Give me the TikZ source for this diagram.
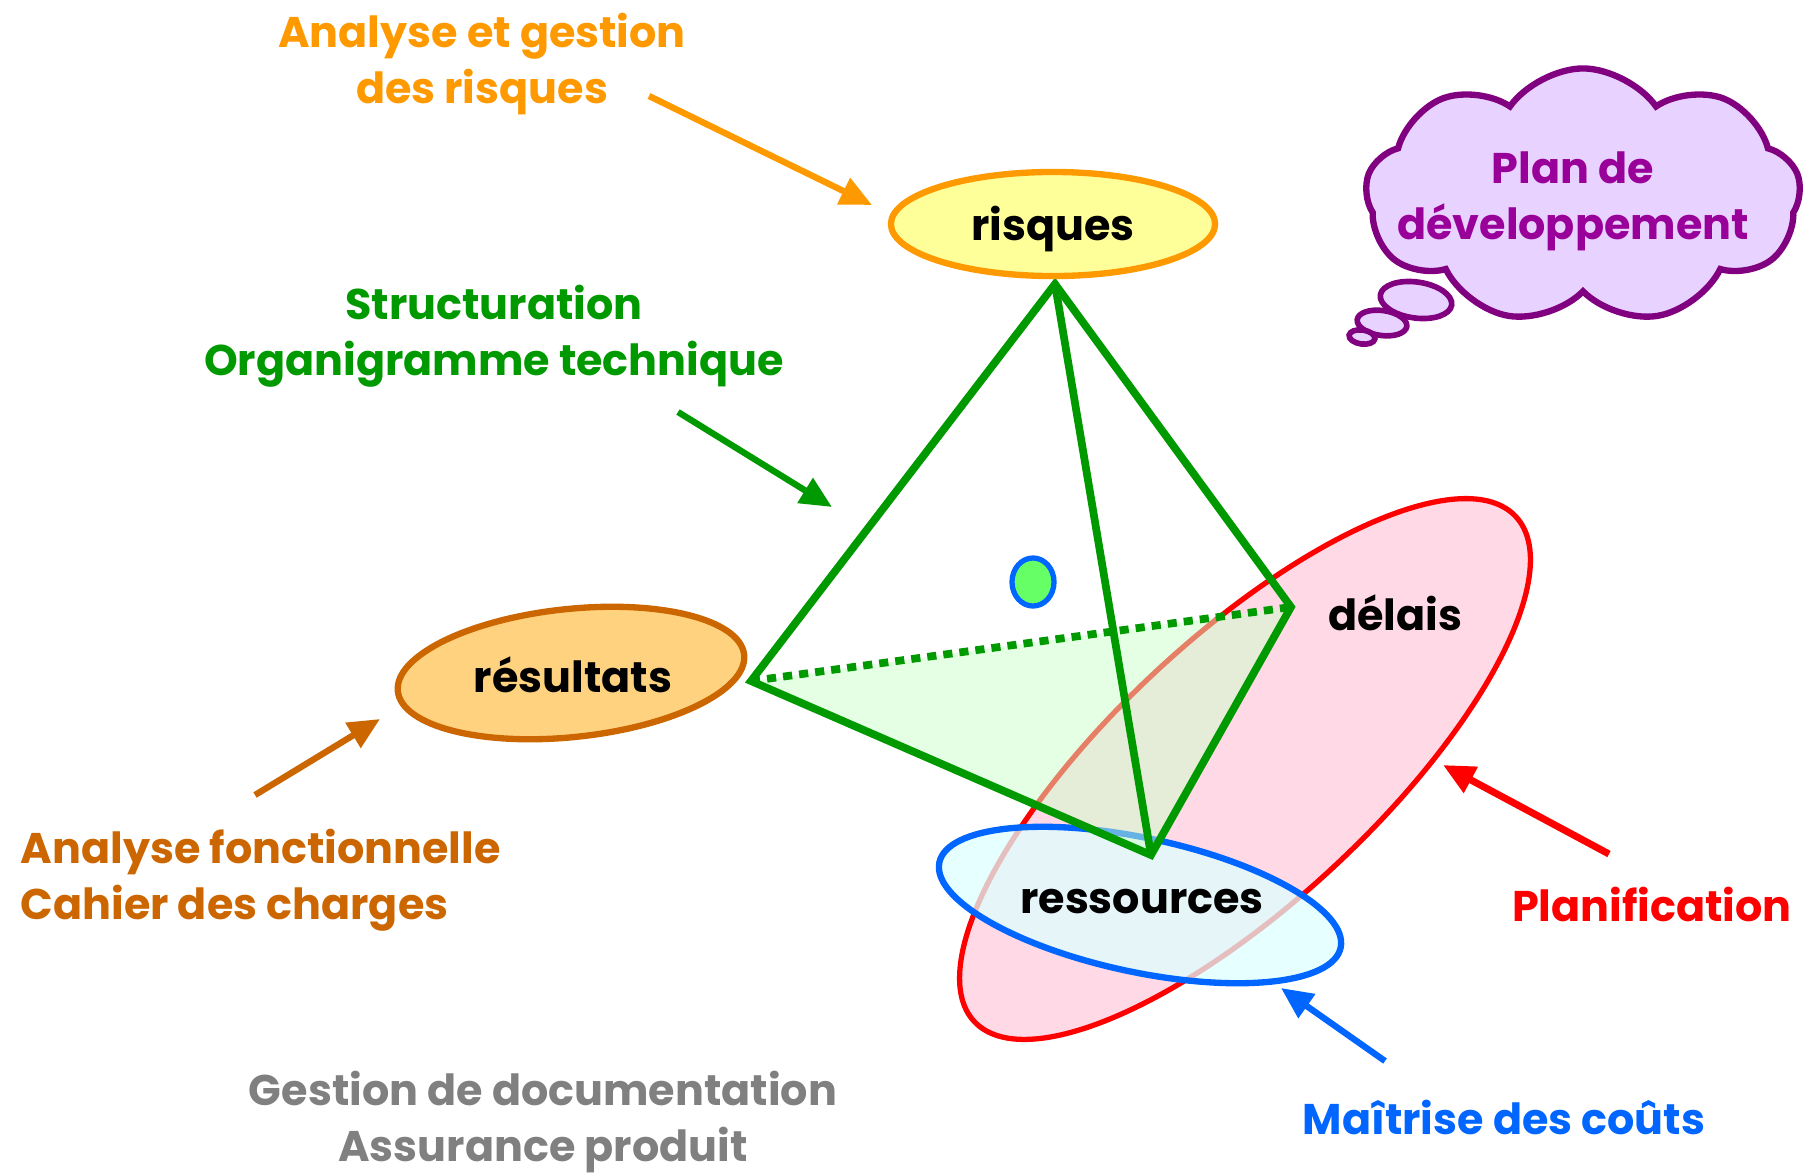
\documentclass[tikz,border=0pt]{standalone}
\usepackage{fontspec}
\setmainfont{Poppins}
\usetikzlibrary{shapes.geometric,shapes.symbols,arrows.meta}
\definecolor{cOrange}{HTML}{FF9900}
\definecolor{cYellow}{HTML}{FFFF99}
\definecolor{cGreen}{HTML}{009900}
\definecolor{cBrown}{HTML}{CC6600}
\definecolor{cResFill}{HTML}{FFD280}
\definecolor{cRed}{HTML}{FF0000}
\definecolor{cPink}{HTML}{FFD9E6}
\definecolor{cBlue}{HTML}{0066FF}
\definecolor{cCyan}{HTML}{DDFFFF}
\definecolor{cGray}{HTML}{808080}
\definecolor{cPurple}{HTML}{990099}
\definecolor{cPurpleLine}{HTML}{800080}
\definecolor{cLilac}{HTML}{E8D2FF}
\definecolor{cFace}{HTML}{CCFFCC}
\definecolor{cDot}{HTML}{66FF66}
\begin{document}
\begin{tikzpicture}[x=0.01cm,y=-0.01cm,
  every node/.style={font=\bfseries\fontsize{12.2}{15.9}\selectfont, inner sep=0pt},
  txt/.style={align=center},
  arr/.style={line width=1.8pt, -{Triangle[length=9pt,width=8pt]}},
  edge3d/.style={cGreen, line width=2.2pt, line join=miter},
  blob/.style={ellipse, line width=1.8pt, inner sep=0pt}]
\useasboundingbox (0,0) rectangle (1818,1172);

% --- planification ellipse (red) ---
\node[blob, draw=cRed, fill=cPink, line width=1.5pt, rotate=43,
      minimum width=7.4cm, minimum height=2.64cm] (planif) at (1245,769) {};
% --- ressources ellipse (blue) ---
\node[blob, draw=cBlue, fill=cCyan, fill opacity=0.75, draw opacity=1, rotate=-12,
      minimum width=4.1cm, minimum height=1.34cm] (ress) at (1140,905) {};

% --- pyramid ---
\coordinate (apex) at (1055,284);
\coordinate (vL) at (751,681);
\coordinate (vR) at (1291,607);
\coordinate (vB) at (1151,855);
\fill[cFace, opacity=0.5] (vL) -- (vR) -- (vB) -- cycle;
\draw[edge3d, dash pattern=on 2.6pt off 2pt] (vL) -- (vR);
\draw[edge3d] (vL) -- (apex) -- (vR) -- (vB) -- cycle;
\draw[edge3d] (apex) -- (vB);

% small dot
\node[ellipse, draw=cBlue, fill=cDot, line width=1.5pt,
      minimum width=0.42cm, minimum height=0.48cm] (dot) at (1033,582) {};

% --- risques ---
\node[blob, draw=cOrange, fill=cYellow, minimum width=3.24cm, minimum height=1.04cm] (risq) at (1053,224) {};
\node (risqT) at (1053,229) {risques};

% --- resultats ---
\node[blob, draw=cBrown, fill=cResFill, rotate=6, minimum width=3.48cm, minimum height=1.28cm] (resu) at (571,673) {};
\node (resuT) at (573,675) {résultats};

% labels inside
\node (delT) at (1395,613) {délais};
\node (ressT) at (1142,902) {ressources};

% --- cloud ---
\node[cloud, cloud puffs=9, cloud puff arc=110, aspect=1.8, draw=cPurpleLine, fill=cLilac,
      line width=1.8pt, minimum width=4.35cm, minimum height=2.55cm] (cloud) at (1583,196) {};
\node[ellipse, draw=cPurpleLine, fill=cLilac, line width=1.6pt, rotate=-8,
      minimum width=0.72cm, minimum height=0.36cm] (b1) at (1416,300) {};
\node[ellipse, draw=cPurpleLine, fill=cLilac, line width=1.6pt, rotate=-8,
      minimum width=0.5cm, minimum height=0.25cm] (b2) at (1382,323) {};
\node[ellipse, draw=cPurpleLine, fill=cLilac, line width=1.6pt, rotate=-8,
      minimum width=0.26cm, minimum height=0.14cm] (b3) at (1362,337) {};
\node[txt, text=cPurple] (cloudT) at (1573,201) {Plan de\\développement};

% --- texts ---
\node[txt, text=cOrange] (tRisk) at (482,64) {Analyse et gestion\\des risques};
\node[txt, text=cGreen] (tStruct) at (494,336) {Structuration\\Organigramme technique};
\node[align=left, anchor=west, text=cBrown] (tAF) at (20,880) {Analyse fonctionnelle\\Cahier des charges};
\node[txt, text=cGray] (tDoc) at (543,1122) {Gestion de documentation\\Assurance produit};
\node[txt, text=cRed] (tPlan) at (1652,904) {Planification};
\node[txt, text=cBlue] (tCout) at (1504,1117) {Maîtrise des coûts};

% --- arrows ---
\coordinate (a1s) at (649,96);   \coordinate (a1e) at (872,205);
\coordinate (a2s) at (678,412);  \coordinate (a2e) at (832,507);
\coordinate (a3s) at (255,795);  \coordinate (a3e) at (380,719);
\coordinate (a4s) at (1609,854); \coordinate (a4e) at (1443,765);
\coordinate (a5s) at (1385,1061);\coordinate (a5e) at (1281,988);
\draw[arr, cOrange] (a1s) -- (a1e);
\draw[arr, cGreen] (a2s) -- (a2e);
\draw[arr, cBrown] (a3s) -- (a3e);
\draw[arr, cRed, line width=2pt] (a4s) -- (a4e);
\draw[arr, cBlue] (a5s) -- (a5e);
\end{tikzpicture}
\end{document}
